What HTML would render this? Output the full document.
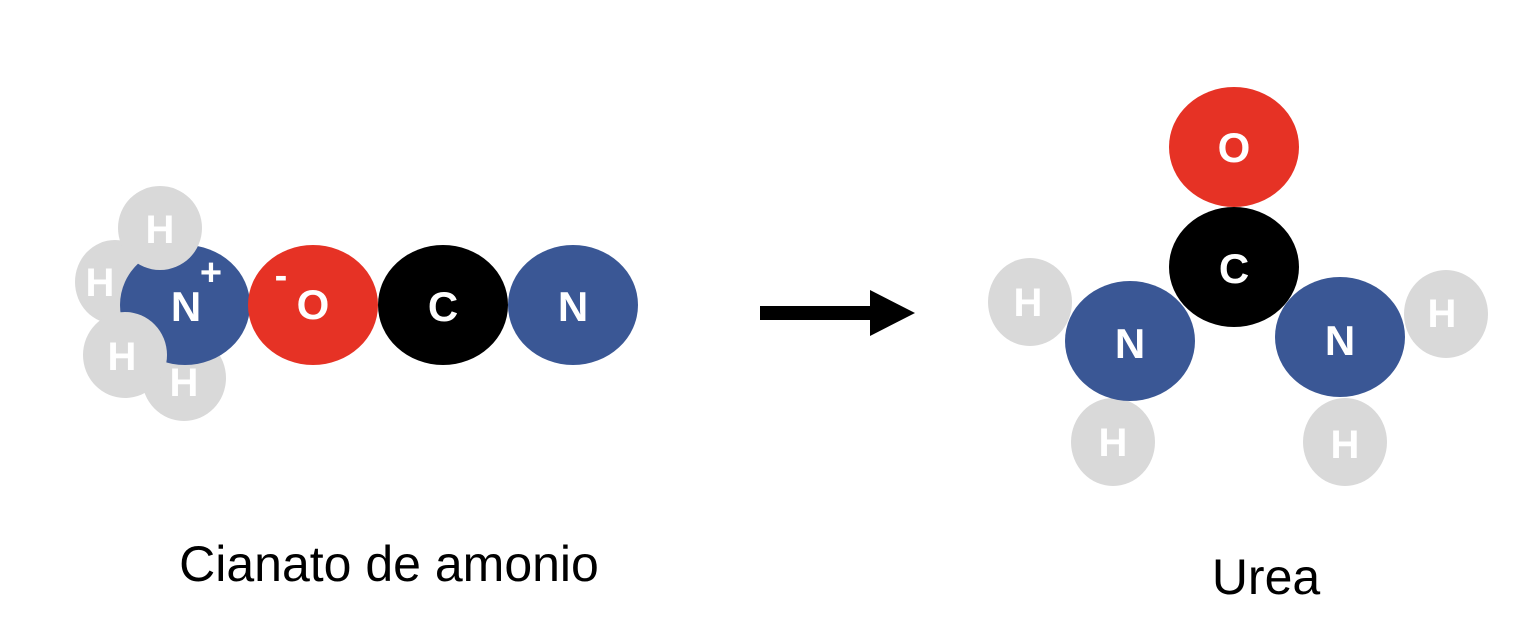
<!DOCTYPE html>
<html><head><meta charset="utf-8"><style>
html,body{margin:0;padding:0;background:#fff;}
svg{display:block}
text{font-family:"Liberation Sans",sans-serif;font-weight:bold;fill:#fff;text-anchor:middle;}
.lbl{font-weight:normal;fill:#000;font-size:50px;}
</style></head><body>
<svg width="1536" height="631" viewBox="0 0 1536 631" xmlns="http://www.w3.org/2000/svg">
<!-- Left molecule -->
<ellipse cx="115" cy="282" rx="40" ry="42" fill="#d9d9d9"/>
<text x="100" y="296" font-size="40">H</text>
<ellipse cx="184" cy="378" rx="42" ry="43" fill="#d9d9d9"/>
<text x="184" y="396" font-size="40">H</text>
<ellipse cx="185" cy="305" rx="65" ry="60" fill="#3a5795"/>
<ellipse cx="160" cy="228" rx="42" ry="42" fill="#d9d9d9"/>
<text x="160" y="243" font-size="40">H</text>
<ellipse cx="125" cy="355" rx="42" ry="43" fill="#d9d9d9"/>
<text x="122" y="370" font-size="40">H</text>
<text x="186" y="321" font-size="42">N</text>
<text x="211" y="285" font-size="38">+</text>
<ellipse cx="313" cy="305" rx="65" ry="60" fill="#e63225"/>
<text x="313" y="319" font-size="42">O</text>
<text x="281" y="288" font-size="38">-</text>
<ellipse cx="443" cy="305" rx="65" ry="60" fill="#000"/>
<text x="443" y="321" font-size="42">C</text>
<ellipse cx="573" cy="305" rx="65" ry="60" fill="#3a5795"/>
<text x="573" y="321" font-size="42">N</text>
<text class="lbl" x="389" y="581">Cianato de amonio</text>
<!-- Arrow -->
<rect x="760" y="306" width="112" height="14" fill="#000"/>
<polygon points="870,290 915,313 870,336" fill="#000"/>
<!-- Urea -->
<ellipse cx="1030" cy="302" rx="42" ry="44" fill="#d9d9d9"/>
<text x="1028" y="316" font-size="40">H</text>
<ellipse cx="1446" cy="314" rx="42" ry="44" fill="#d9d9d9"/>
<text x="1442" y="327" font-size="40">H</text>
<ellipse cx="1113" cy="442" rx="42" ry="44" fill="#d9d9d9"/>
<text x="1113" y="456" font-size="40">H</text>
<ellipse cx="1345" cy="442" rx="42" ry="44" fill="#d9d9d9"/>
<text x="1345" y="458" font-size="40">H</text>
<ellipse cx="1234" cy="147" rx="65" ry="60" fill="#e63225"/>
<text x="1234" y="162" font-size="42">O</text>
<ellipse cx="1234" cy="267" rx="65" ry="60" fill="#000"/>
<text x="1234" y="283" font-size="42">C</text>
<ellipse cx="1130" cy="341" rx="65" ry="60" fill="#3a5795"/>
<text x="1130" y="358" font-size="42">N</text>
<ellipse cx="1340" cy="337" rx="65" ry="60" fill="#3a5795"/>
<text x="1340" y="355" font-size="42">N</text>
<text class="lbl" x="1266" y="594">Urea</text>
</svg>
</body></html>
